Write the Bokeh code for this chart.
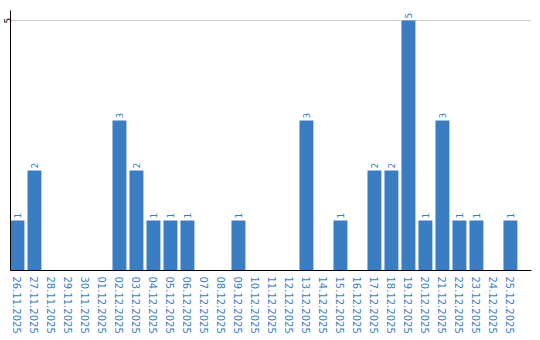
import math
from bokeh.plotting import figure
from bokeh.models import ColumnDataSource, FixedTicker, Range1d
from bokeh.core.properties import value
from bokeh.embed import file_html
from bokeh.resources import INLINE

dates = ["26.11.2025", "27.11.2025", "28.11.2025", "29.11.2025", "30.11.2025",
         "01.12.2025", "02.12.2025", "03.12.2025", "04.12.2025", "05.12.2025",
         "06.12.2025", "07.12.2025", "08.12.2025", "09.12.2025", "10.12.2025",
         "11.12.2025", "12.12.2025", "13.12.2025", "14.12.2025", "15.12.2025",
         "16.12.2025", "17.12.2025", "18.12.2025", "19.12.2025", "20.12.2025",
         "21.12.2025", "22.12.2025", "23.12.2025", "24.12.2025", "25.12.2025"]
counts = [1, 2, 0, 0, 0, 0, 3, 2, 1, 1, 1, 0, 0, 1, 0, 0, 0, 3, 0, 1,
          0, 2, 2, 5, 1, 3, 1, 1, 0, 1]
y_ticks = [5]

BLUE = "#3b7dc3"
idx = list(range(len(dates)))
src = ColumnDataSource(dict(x=idx, top=counts))
nz = [i for i in idx if counts[i] > 0]
lab = ColumnDataSource(dict(x=nz, y=[counts[i] for i in nz], t=[str(counts[i]) for i in nz]))

p = figure(width=540, height=340, output_backend="svg", toolbar_location=None,
           x_range=Range1d(-0.41, 30.24), y_range=Range1d(0, 5.2),
           min_border_left=0, min_border_right=9, min_border_top=10, min_border_bottom=70)
p.outline_line_color = None
p.background_fill_color = "white"

p.vbar(x="x", top="top", bottom=0, width=0.82, source=src, fill_color=BLUE, line_color=None)
p.text(x="x", y="y", text="t", source=lab, angle=math.pi / 2, y_offset=-2,
       text_align="left", text_baseline="middle", text_color=BLUE,
       text_font=value("DejaVu Sans"), text_font_size="9px")

for ax in (p.xaxis, p.yaxis):
    ax.major_tick_out = 0
    ax.major_tick_in = 0
    ax.minor_tick_out = 0
    ax.minor_tick_in = 0
    ax.major_tick_line_color = None
    ax.minor_tick_line_color = None
    ax.axis_line_color = "black"
    ax.major_label_orientation = "vertical"
    ax.major_label_text_font = "DejaVu Sans"

p.xaxis.ticker = FixedTicker(ticks=idx)
p.xaxis.major_label_overrides = {i: d for i, d in enumerate(dates)}
p.xaxis.major_label_text_color = BLUE
p.xaxis.major_label_text_font_size = "10px"
p.xaxis.major_label_standoff = 6

p.yaxis.ticker = FixedTicker(ticks=y_ticks)
p.yaxis.major_label_text_color = "black"
p.yaxis.major_label_text_font_size = "9px"
p.yaxis.major_label_standoff = 0

p.xgrid.grid_line_color = None
p.ygrid.ticker = FixedTicker(ticks=y_ticks)
p.ygrid.grid_line_color = "#cccccc"

open("out.html", "w").write(file_html(p, INLINE))
